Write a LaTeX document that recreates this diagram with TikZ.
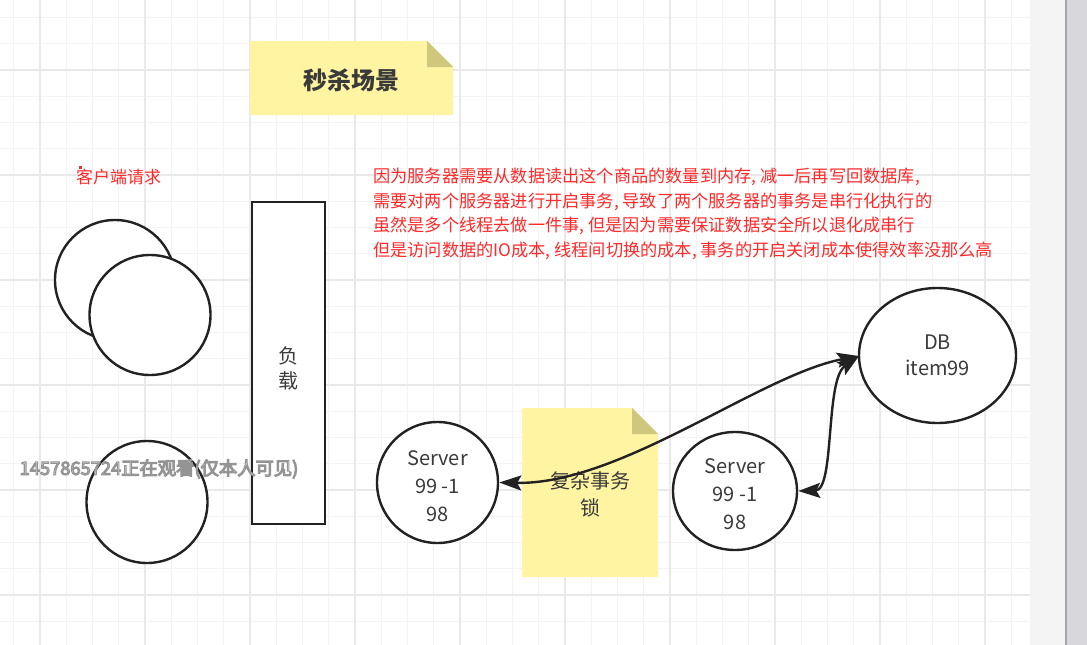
\documentclass[tikz,border=0pt]{standalone}
\usepackage{fontspec}
\setmainfont{Noto Sans CJK SC}
\newfontfamily\cjk{Noto Sans CJK SC}
\usetikzlibrary{arrows.meta,shapes.geometric}
\definecolor{gridminor}{HTML}{F3F3F3}
\definecolor{gridmajor}{HTML}{E9E9E9}
\definecolor{notey}{HTML}{FFF4A2}
\definecolor{notefold}{HTML}{CFC77C}
\definecolor{redtxt}{HTML}{FF2A2A}
\definecolor{ink}{HTML}{222222}
\definecolor{txt}{HTML}{3A3A3A}
\definecolor{stripA}{HTML}{F4F4F4}
\definecolor{stripB}{HTML}{D8D8DC}
\tikzset{
  shapeline/.style={draw=ink, line width=2.4pt, fill=white},
  circ/.style={shapeline, ellipse, inner sep=0pt, text=txt, align=center,
    font=\fontsize{20}{28}\selectfont},
  redline/.style={anchor=west, inner sep=0pt, text=redtxt, font=\fontsize{17.2}{20}\selectfont},
  conn/.style={draw=ink, line width=2.4pt, {Stealth[length=22pt,width=15pt,inset=4pt]}-{Stealth[length=22pt,width=15pt,inset=4pt]}},
  notetext/.style={text=txt, align=center, inner sep=0pt}
}
\begin{document}
\begin{tikzpicture}[x=1pt,y=-1pt]
\useasboundingbox (0,0) rectangle (1087,645);
\fill[white] (0,0) rectangle (1087,645);
% grid
\foreach \k in {0,...,38} {
  \draw[gridminor, line width=1pt] ({13.75+26.25*\k},0) -- ({13.75+26.25*\k},645);
}
\foreach \k in {0,...,24} {
  \draw[gridminor, line width=1pt] (0,{17.5+26.25*\k}) -- (1030,{17.5+26.25*\k});
}
\foreach \k in {0,...,9} {
  \draw[gridmajor, line width=1.2pt] ({40+105*\k},0) -- ({40+105*\k},645);
}
\foreach \k in {0,...,5} {
  \draw[gridmajor, line width=1.2pt] (0,{70+105*\k}) -- (1030,{70+105*\k});
}
% right strip
\fill[stripA] (1030,0) rectangle (1065,645);
\fill[black!35] (1065,0) rectangle (1066.5,645);
\fill[stripB] (1066.5,0) rectangle (1087,645);

% title note
\fill[notey] (250,41) -- (427,41) -- (453,67) -- (453,115) -- (250,115) -- cycle;
\fill[notefold] (427,41) -- (453,67) -- (427,67) -- cycle;
\node[notetext, font=\fontsize{24}{28}\selectfont\bfseries] (title) at (351,80) {秒杀场景};

% client label
\fill[redtxt] (78.5,165.5) rectangle (81.5,168.5);
\node[redline] (clientlbl) at (76,177) {\fontsize{17}{20}\selectfont 客户端请求};

% explanation text
\node[redline] (l1) at (373,177) {因为服务器需要从数据读出这个商品的数量到内存, 减一后再写回数据库,};
\node[redline] (l2) at (373,201.5) {需要对两个服务器进行开启事务, 导致了两个服务器的事务是串行化执行的};
\node[redline] (l3) at (373,226) {虽然是多个线程去做一件事, 但是因为需要保证数据安全所以退化成串行};
\node[redline] (l4) at (373,251) {但是访问数据的IO成本, 线程间切换的成本, 事务的开启关闭成本使得效率没那么高};

% clients
\node[circ, minimum width=120pt, minimum height=120pt] (c1) at (115,280) {};
\node[circ, minimum width=121pt, minimum height=120pt] (c2) at (150,315) {};
\node[circ, minimum width=121pt, minimum height=122pt] (c3) at (147,502) {};

% load balancer
\node[shapeline, rectangle, minimum width=73pt, minimum height=322pt, inner sep=0pt] (lb) at (288.5,363) {};
\node[notetext, font=\fontsize{20}{25}\selectfont] (lbtxt) at (288,368) {负\\载};

% watermark (light letters with a grey outline)
\node[inner sep=0pt, text=black!4, font=\fontsize{18.3}{20}\selectfont] (wm) at (159,469)
  {\special{pdf:literal direct 2 Tr 1.1 w 0.58 0.58 0.58 RG}1457865724正在观看(仅本人可见)\special{pdf:literal direct 0 Tr}};

% lock note
\fill[notey] (522,408) -- (632,408) -- (658,434) -- (658,577) -- (522,577) -- cycle;
\fill[notefold] (632,408) -- (658,434) -- (632,434) -- cycle;
\node[notetext, font=\fontsize{20}{27}\selectfont] (lock) at (590,494) {复杂事务\\锁};

% servers and DB
\node[circ, minimum width=121pt, minimum height=121pt] (s1) at (437.5,482.5) {\\[-6pt]Server\\99 -1\\98};
\node[circ, minimum width=124pt, minimum height=118pt] (s2) at (735,491) {\\[-6pt]Server\\99 -1\\98};
\node[circ, minimum width=157pt, minimum height=135pt, font=\fontsize{20}{26}\selectfont] (db) at (937.5,355.5) {DB\\item99};

% connectors
\coordinate (dbin) at (859,356);
\draw[conn] (s1.east) .. controls (620,485) and (760,375) .. (dbin);
\draw[conn] (s2.east) .. controls (835,490) and (825,380) .. (dbin);
\end{tikzpicture}
\end{document}
